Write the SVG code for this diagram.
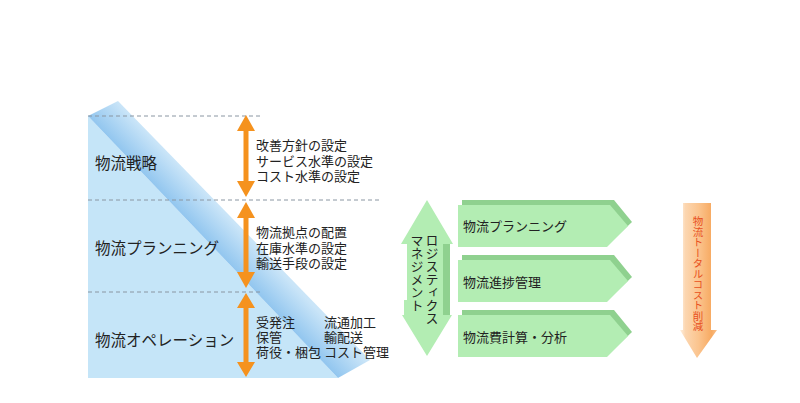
<svg xmlns="http://www.w3.org/2000/svg" width="800" height="403" viewBox="0 0 800 403">
<style>
text{font-family:"Noto Sans CJK JP","Noto Sans",sans-serif;fill:#222}
.lbl{font-size:15.5px}
.sm{font-size:13px}
.dash{stroke:#8a96a2;stroke-width:1;stroke-dasharray:4 3;fill:none}
.orange{fill:#f5921e}
.gl{fill:#b3edb3}
.gd{fill:#8fd18f}
.vt{writing-mode:vertical-rl;font-size:13px}
.vo{writing-mode:vertical-rl;font-size:10.5px;fill:#e8501e}
</style>
<defs>
<linearGradient id="band" gradientUnits="userSpaceOnUse" x1="88" y1="116" x2="111" y2="94">
<stop offset="0" stop-color="#92c6ef"/>
<stop offset="1" stop-color="#cae5f8"/>
</linearGradient>
<linearGradient id="og" x1="0" y1="0" x2="1" y2="0">
<stop offset="0" stop-color="#fff0e0"/>
<stop offset="0.15" stop-color="#fcd6b0"/>
<stop offset="0.5" stop-color="#fbc48e"/>
<stop offset="0.85" stop-color="#f7aa62"/>
<stop offset="1" stop-color="#f9c08a"/>
</linearGradient>
</defs>
<rect width="800" height="403" fill="#fff"/>
<g id="background">
<polygon points="88,116 338,378 88,378" fill="#c5e5f8"/>
<polygon points="88,116 118,101 370,360 338,378" fill="url(#band)"/>
<line class="dash" x1="88" y1="116" x2="260" y2="116"/>
<line class="dash" x1="88" y1="200" x2="380" y2="200"/>
<line class="dash" x1="88" y1="292" x2="260" y2="292"/>
</g>
<g id="level-strategy">
<text class="lbl" x="95" y="168.5">物流戦略</text>
<text class="sm" x="256" y="150">改善方針の設定</text>
<text class="sm" x="256" y="166">サービス水準の設定</text>
<text class="sm" x="256" y="181">コスト水準の設定</text>
</g>
<g id="level-planning">
<text class="lbl" x="95" y="254">物流プランニング</text>
<text class="sm" x="256" y="237">物流拠点の配置</text>
<text class="sm" x="256" y="253">在庫水準の設定</text>
<text class="sm" x="256" y="268">輸送手段の設定</text>
</g>
<g id="level-operation">
<text class="lbl" x="95" y="346">物流オペレーション</text>
<text class="sm" x="256" y="327">受発注</text>
<text class="sm" x="256" y="342">保管</text>
<text class="sm" x="256" y="357">荷役・梱包</text>
<text class="sm" x="324" y="327">流通加工</text>
<text class="sm" x="324" y="342">輸配送</text>
<text class="sm" x="324" y="357">コスト管理</text>
</g>
<g id="connectors">
<path class="orange" d="M246,115 L255,131 L248.5,131 L248.5,181 L255,181 L246,197 L237,181 L243.5,181 L243.5,131 L237,131 Z"/>
<path class="orange" d="M246,202 L255,218 L248.5,218 L248.5,272 L255,272 L246,288 L237,272 L243.5,272 L243.5,218 L237,218 Z"/>
<path class="orange" d="M246,293 L255,308 L248.5,308 L248.5,362 L255,362 L246,377 L237,362 L243.5,362 L243.5,308 L237,308 Z"/>
</g>
<g id="logistics-management">
<rect class="gd" x="443" y="244" width="7" height="71"/>
<rect class="gd" x="404" y="300" width="6" height="15"/>
<polygon class="gl" points="427,200 453,244 443,244 443,315 452,315 427,356 402,315 404,315 404,300 410,300 410,244 401,244"/>
<polygon class="gl" points="410,244 410,300 407,300 407,244"/>
<text class="vt" x="432" y="234">ロジスティクス</text>
<text class="vt" x="417" y="234">マネジメント</text>
</g>
<g id="box-planning">
<polygon class="gd" points="462,200 614,200 632,222 611,242 462,242"/>
<polygon class="gl" points="458,205 610,205 628,226 607,247 458,247"/>
<text class="sm" x="463" y="231">物流プランニング</text>
</g>
<g id="box-progress">
<polygon class="gd" points="462,255 614,255 632,277 611,297 462,297"/>
<polygon class="gl" points="458,260 610,260 628,281 607,302 458,302"/>
<text class="sm" x="463" y="287">物流進捗管理</text>
</g>
<g id="box-cost">
<polygon class="gd" points="462,310 614,310 632,332 611,352 462,352"/>
<polygon class="gl" points="458,315 610,315 628,336 607,357 458,357"/>
<text class="sm" x="463" y="342">物流費計算・分析</text>
</g>
<g id="cost-reduction">
<polygon fill="url(#og)" points="683,203 711,203 711,330 717,330 697,358 680,330 683,330"/>
<text class="vo" x="698" y="216">物流トータルコスト削減</text>
</g>
</svg>
